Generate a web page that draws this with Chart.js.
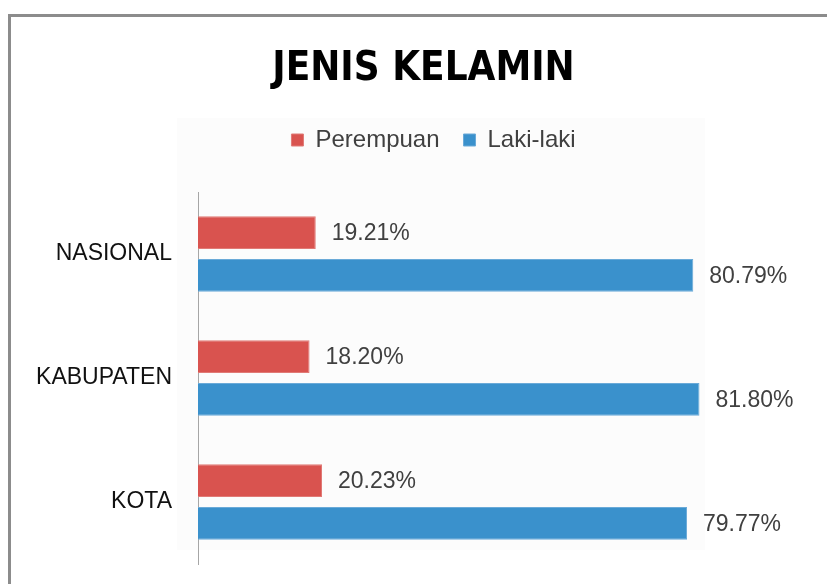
<!DOCTYPE html>
<html>
<head>
<meta charset="utf-8">
<script src="https://cdn.jsdelivr.net/npm/chart.js@4"></script>
<style>
  html, body { margin: 0; padding: 0; background: #fff; }
  #wrap { position: relative; width: 827px; height: 584px; overflow: hidden; }
  #frame { position: absolute; left: 8px; top: 14px; width: 900px; height: 700px;
           border-left: 3px solid #8c8c8c; border-top: 3px solid #8c8c8c; }
  canvas { position: absolute; left: 0; top: 0; }
</style>
</head>
<body>
<div id="wrap">
  <div id="frame"></div>
  <canvas id="genderChart" width="827" height="584"></canvas>
</div>
<script>
// data
const categories = ['NASIONAL', 'KABUPATEN', 'KOTA'];
const perempuan = [19.21, 18.20, 20.23];
const lakiLaki = [80.79, 81.80, 79.77];
const seriesNames = ['Perempuan', 'Laki-laki'];

const bodyFont = "'Liberation Sans', Arial, sans-serif";

// faint plot background like the spreadsheet export
const plotBg = {
    id: 'plotBg',
    beforeDraw(chart) {
        const ctx = chart.ctx;
        ctx.save();
        ctx.fillStyle = '#fcfcfc';
        ctx.fillRect(177, 118, 528, 432);
        ctx.restore();
    }
};

// percentage labels to the right of each bar
const valueLabels = {
    id: 'valueLabels',
    afterDatasetsDraw(chart) {
        const ctx = chart.ctx;
        ctx.save();
        ctx.font = '23px ' + bodyFont;
        ctx.fillStyle = '#404040';
        ctx.textAlign = 'left';
        ctx.textBaseline = 'middle';
        chart.data.datasets.forEach((ds, i) => {
            chart.getDatasetMeta(i).data.forEach((bar, j) => {
                ctx.fillText(ds.data[j].toFixed(2) + '%', bar.x + 16, bar.y + 1);
            });
        });
        ctx.restore();
    }
};

// extra space under the legend, and nudge it a bit right
const legendGap = {
    id: 'legendGap',
    beforeInit(chart) {
        const fit = chart.legend.fit;
        chart.legend.fit = function () {
            fit.bind(chart.legend)();
            this.height += 30;
        };
    },
    afterLayout(chart) {
        chart.legend.left += 10;
        chart.legend.right += 10;
    }
};

new Chart(document.getElementById('genderChart'), {
    type: 'bar',
    data: {
        labels: categories,
        datasets: [{
            label: seriesNames[0],
            data: perempuan,
            backgroundColor: '#d9534f',
            borderColor: '#e07a76',
            borderWidth: 1,
            categoryPercentage: 0.69,
            barPercentage: 0.77
        }, {
            label: seriesNames[1],
            data: lakiLaki,
            backgroundColor: '#3a91cc',
            borderColor: '#6aaad8',
            borderWidth: 1,
            categoryPercentage: 0.69,
            barPercentage: 0.77
        }]
    },
    options: {
        indexAxis: 'y',
        responsive: false,
        animation: false,
        layout: { padding: { left: 20, right: 0, top: 0, bottom: 20 } },
        scales: {
            x: {
                display: false,
                min: 0,
                max: 102.6
            },
            y: {
                afterFit(scale) {
                    scale.width = 178;
                    scale.paddingTop = 0;
                    scale.paddingBottom = 0;
                },
                grid: { display: false, drawTicks: false },
                border: { display: true, color: '#a6a6a6', width: 1 },
                ticks: {
                    padding: 26,
                    color: '#111',
                    font: { family: bodyFont, size: 23 }
                }
            }
        },
        plugins: {
            title: {
                display: true,
                text: 'JENIS KELAMIN',
                color: '#000',
                font: { family: "'Liberation Sans Narrow', 'DejaVu Sans Condensed', sans-serif", size: 40, weight: 'bold' },
                padding: { top: 46, bottom: 10 }
            },
            legend: {
                position: 'top',
                labels: {
                    boxWidth: 12,
                    boxHeight: 12,
                    padding: 24,
                    color: '#404040',
                    font: { family: bodyFont, size: 24 }
                }
            },
            tooltip: { enabled: false }
        }
    },
    plugins: [plotBg, valueLabels, legendGap]
});
</script>
</body>
</html>
